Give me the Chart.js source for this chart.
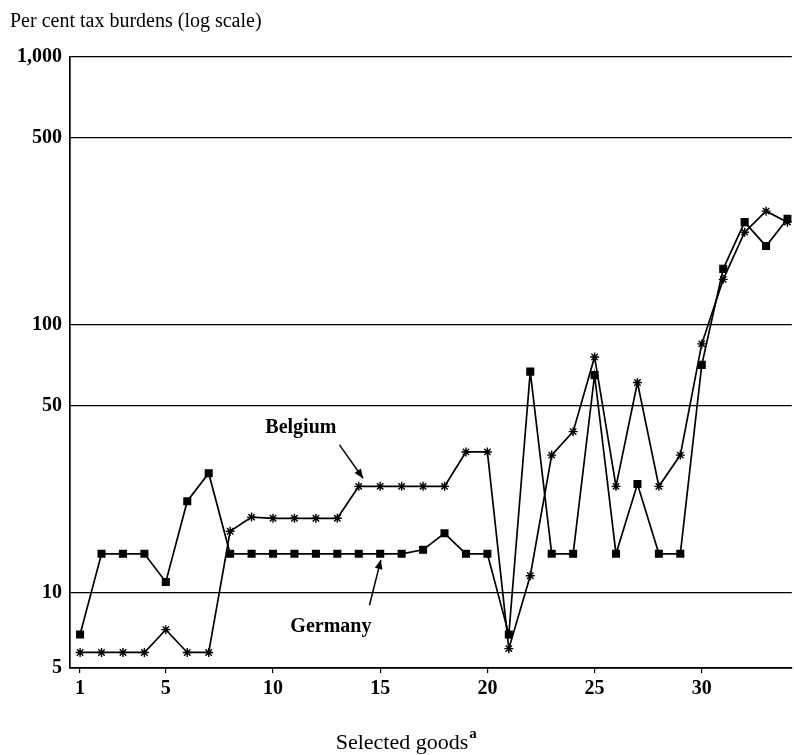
<!DOCTYPE html>
<html>
<head>
<meta charset="utf-8">
<script src="https://cdn.jsdelivr.net/npm/chart.js@4/dist/chart.umd.min.js"></script>
<style>
html,body{margin:0;padding:0;background:#fff;overflow:hidden;width:794px;height:755px;}
canvas{display:block;}
</style>
</head>
<body>
<canvas id="c" width="798" height="755"></canvas>
<script>
const goods = Array.from({length: 34}, (_, i) => i + 1);
const germany = [7.0, 14, 14, 14, 11, 22, 28, 14, 14, 14, 14, 14, 14, 14, 14, 14, 14.5, 16.7, 14, 14,
                 7.0, 67, 14, 14, 65, 14, 25.5, 14, 14, 71, 162, 242, 197, 249];
const belgium = [6.0, 6.0, 6.0, 6.0, 7.3, 6.0, 6.0, 17, 19.2, 19, 19, 19, 19, 25, 25, 25, 25, 25, 33.6, 33.6,
                 6.2, 11.6, 32.7, 40, 76, 25, 61, 25, 32.7, 85, 148, 222, 266, 242];
const xTicks = [1, 5, 10, 15, 20, 25, 30];
const yTicks = [5, 10, 50, 100, 500, 1000];
const yTitle = 'Per cent tax burdens (log scale)';
const xTitle = 'Selected goods';
const xTitleSup = 'a';
const annotations = [
  {text: 'Belgium', x: 11.3, y: 41.5, from: [13.1, 35.7], to: [14.2, 26.8]},
  {text: 'Germany', x: 12.7, y: 7.45, from: [14.5, 9.0], to: [15.03, 13.3]}
];

const SERIF = '"Liberation Serif", "DejaVu Serif", serif';

const textPlugin = {
  id: 'texts',
  afterDraw(chart) {
    const ctx = chart.ctx;
    const xs = chart.scales.x, ys = chart.scales.y;
    ctx.save();
    ctx.fillStyle = '#000';
    ctx.font = '20px ' + SERIF;
    ctx.textAlign = 'left';
    ctx.textBaseline = 'middle';
    ctx.fillText(yTitle, 10, 22);
    ctx.font = '22px ' + SERIF;
    const w = ctx.measureText(xTitle).width;
    const cx = 402;
    ctx.fillText(xTitle, cx - w / 2, 743);
    ctx.font = 'bold 15px ' + SERIF;
    ctx.fillText(xTitleSup, cx + w / 2 + 1, 734);
    ctx.strokeStyle = '#000';
    ctx.lineWidth = 1.5;
    annotations.forEach(a => {
      ctx.font = 'bold 20px ' + SERIF;
      ctx.textAlign = 'center';
      ctx.textBaseline = 'middle';
      ctx.fillText(a.text, xs.getPixelForValue(a.x), ys.getPixelForValue(a.y));
      const x1 = xs.getPixelForValue(a.from[0]), y1 = ys.getPixelForValue(a.from[1]);
      const x2 = xs.getPixelForValue(a.to[0]), y2 = ys.getPixelForValue(a.to[1]);
      ctx.beginPath(); ctx.moveTo(x1, y1); ctx.lineTo(x2, y2); ctx.stroke();
      const ang = Math.atan2(y2 - y1, x2 - x1);
      const L = 10, W = 0.4;
      ctx.beginPath();
      ctx.moveTo(x2, y2);
      ctx.lineTo(x2 - L * Math.cos(ang - W), y2 - L * Math.sin(ang - W));
      ctx.lineTo(x2 - L * Math.cos(ang + W), y2 - L * Math.sin(ang + W));
      ctx.closePath();
      ctx.fill();
    });
    ctx.restore();
  }
};

new Chart(document.getElementById('c'), {
  type: 'line',
  data: {
    labels: goods,
    datasets: [
      {
        label: 'Germany',
        data: goods.map((g, i) => ({x: g, y: germany[i]})),
        borderColor: '#000', borderWidth: 1.7,
        pointStyle: 'rect', pointRadius: 4.5,
        pointBackgroundColor: '#000', pointBorderColor: '#000',
        tension: 0
      },
      {
        label: 'Belgium',
        data: goods.map((g, i) => ({x: g, y: belgium[i]})),
        borderColor: '#000', borderWidth: 1.7,
        pointStyle: 'star', pointRadius: 4.5, pointBorderWidth: 1.4,
        pointBackgroundColor: '#fff', pointBorderColor: '#000',
        tension: 0
      }
    ]
  },
  options: {
    responsive: false,
    devicePixelRatio: 1,
    animation: false,
    layout: {padding: {left: 0, right: 0, top: 57, bottom: 0}},
    plugins: {legend: {display: false}, tooltip: {enabled: false}},
    scales: {
      x: {
        type: 'linear',
        min: 0.53, max: 34.2,
        afterBuildTicks: s => { s.ticks = xTicks.map(v => ({value: v})); },
        afterFit: s => { s.height = 87; },
        grid: {drawOnChartArea: false, drawTicks: true, tickLength: 5, color: '#000', lineWidth: 1.2},
        border: {display: true, color: '#000', width: 1.7},
        ticks: {color: '#000', font: {family: SERIF, size: 20, weight: 'bold'}, padding: 4, maxRotation: 0}
      },
      y: {
        type: 'logarithmic',
        min: 5.25, max: 1000,
        afterBuildTicks: s => { s.ticks = yTicks.map(v => ({value: Math.max(v, s.min)})); },
        afterFit: s => { s.width = 70; },
        grid: {drawOnChartArea: true, drawTicks: false, color: '#000', lineWidth: 1.2},
        border: {display: true, color: '#000', width: 1.7},
        ticks: {
          color: '#000', padding: 8,
          font: {family: SERIF, size: 20, weight: 'bold'},
          callback: v => (v < 6 ? '5' : Number(v).toLocaleString('en-US'))
        }
      }
    }
  },
  plugins: [textPlugin]
});
</script>
</body>
</html>
